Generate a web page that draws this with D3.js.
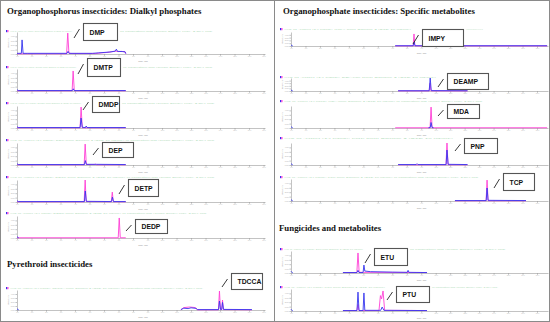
<!DOCTYPE html>
<html><head><meta charset="utf-8">
<script src="https://cdn.jsdelivr.net/npm/d3@7/dist/d3.min.js"></script>
<style>body{margin:0;background:#fff}svg{display:block}</style>
</head><body><svg id="c" width="550" height="322"></svg>
<script>
// ---------------- data ----------------
const sectionTitles = ["Organophosphorus insecticides: Dialkyl phosphates",
  "Organophosphate insecticides: Specific metabolites",
  "Pyrethroid insecticides", "Fungicides and metabolites"];
const compounds = ["DMP","DMTP","DMDP","DEP","DETP","DEDP","TDCCA","IMPY","DEAMP","MDA","PNP","TCP","ETU","PTU"];
const timeTicks = [0,1,2,3,4,5,6,7,8,9,10,11,12,13,14,15,16,17];
const intensityTicks = [0,20,40,60,80];
// traces: [time (min), relative intensity (%)]
const pinkDMP  = [[0,1],[3.42,1],[3.5,95],[3.58,3],[3.8,2],[5.4,2],[5.8,5],[6.2,7],[6.5,10],[6.8,13],[7.0,11],[7.2,12],[7.45,10],[7.5,1]];
const blueDMP  = [[0,3],[0.3,3],[0.35,64],[0.42,3],[0.7,3],[3.45,3],[3.52,12],[3.6,3],[5.2,3],[5.6,5],[6.0,7],[6.4,9],[6.78,13],[6.85,22],[6.93,12],[7.3,11],[7.45,10],[7.5,2]];
const pinkDMTP = [[0,1],[3.8,1],[3.87,91],[3.95,1],[7.5,1]];
const blueDMTP = [[0,6],[0.08,2],[3.82,2],[3.88,10],[3.94,2],[7.5,2]];
const pinkDMDP = [[0,1],[4.35,1],[4.42,95],[4.5,1],[7.5,1]];
const blueDMDP = [[0,6],[0.08,2],[4.35,2],[4.42,45],[4.5,3],[4.72,2],[4.77,9],[4.83,2],[7.5,2]];
const pinkDEP  = [[0,1],[4.63,1],[4.7,95],[4.78,2],[5.35,2],[5.4,5],[5.45,1],[7.5,1]];
const blueDEP  = [[0,6],[0.08,2],[4.65,2],[4.71,20],[4.78,3],[5.5,3],[7.5,2]];
const pinkDETP = [[0,1],[4.63,1],[4.7,100],[4.77,2],[6.5,1],[6.57,45],[6.64,1],[7.5,1]];
const blueDETP = [[0,6],[0.08,2],[4.65,2],[4.71,50],[4.78,3],[6.52,2],[6.58,22],[6.65,2],[7.5,2]];
const pinkDEDP = [[0,1],[6.98,1],[7.05,91],[7.12,1],[7.5,1]];
const blueDEDP = [[0,6],[0.08,2],[0.12,1]];
const pinkTDCCA = [[11.3,1],[11.5,12],[11.9,15],[12.3,12],[12.42,1],[13.89,1],[13.96,95],[14.03,2],[14.11,2],[14.17,50],[14.23,2],[16.2,1]];
const blueTDCCA = [[0,6],[0.08,2],[0.12,1]];
const blueTDCCA2 = [[11.3,2],[11.5,9],[11.8,7],[12.0,11],[12.35,8],[12.45,2],[13.9,2],[13.96,45],[14.03,3],[14.12,3],[14.17,38],[14.24,3],[16.2,2]];
const pinkIMPY  = [[7.2,1],[8.44,1],[8.5,86],[8.56,1],[17.7,1]];
const blueIMPY  = [[0,8],[0.08,2],[0.12,1]];
const blueIMPY2 = [[7.2,2],[8.45,2],[8.51,28],[8.57,2],[17.7,2]];
const pinkDEAMP = [[7.4,1],[9.55,1],[9.61,60],[9.67,1],[12.2,1]];
const blueDEAMP = [[0,8],[0.08,2],[0.12,1]];
const blueDEAMP2 = [[7.4,2],[9.55,2],[9.62,100],[9.69,3],[12.2,2]];
const pinkMDA  = [[7.2,1],[9.61,1],[9.68,95],[9.75,1],[17.7,1]];
const blueMDA  = [[0,6],[0.08,2],[0.12,1]];
const blueMDA2 = [[9.5,1],[9.62,2],[9.68,25],[9.75,2],[9.85,1]];
const pinkPNP  = [[7.4,1],[10.71,1],[10.78,100],[10.85,1],[12.2,1]];
const bluePNP  = [[0,6],[0.08,2],[0.12,1]];
const bluePNP2 = [[7.4,2],[8.65,2],[8.71,6],[8.77,2],[10.72,2],[10.78,68],[10.86,3],[12.2,2]];
const pinkTCP  = [[11.33,1],[13.48,1],[13.55,95],[13.62,1],[16.24,1]];
const blueTCP  = [[0,6],[0.08,2],[0.12,1]];
const blueTCP2 = [[11.33,2],[13.49,2],[13.55,59],[13.62,3],[16.24,2]];
const pinkETU  = [[3.59,2],[4.55,2],[4.63,91],[4.71,3],[5.0,3],[9.4,2]];
const blueETU  = [[0,8],[0.08,2],[0.12,1]];
const blueETU2 = [[3.59,2],[4.56,2],[4.63,12],[4.7,2],[4.98,2],[5.04,36],[5.1,9],[5.5,6],[7.0,4],[8.03,3],[8.09,12],[8.15,3],[9.4,2]];
const pinkPTU  = [[3.59,2],[4.55,2],[4.63,30],[4.7,2],[6.08,2],[6.18,70],[6.26,55],[6.36,91],[6.47,3],[9.4,2]];
const bluePTU  = [[0,8],[0.08,2],[0.12,1]];
const bluePTU2 = [[3.59,2],[4.56,2],[4.63,86],[4.7,2],[4.98,2],[5.04,82],[5.1,3],[6.2,3],[6.3,18],[6.42,3],[9.4,2]];

const pinkSeries = [pinkDMP,pinkDMTP,pinkDMDP,pinkDEP,pinkDETP,pinkDEDP,pinkTDCCA,pinkIMPY,pinkDEAMP,pinkMDA,pinkPNP,pinkTCP,pinkETU,pinkPTU];
const blueSeries = [[blueDMP],[blueDMTP],[blueDMDP],[blueDEP],[blueDETP],[blueDEDP],[blueTDCCA,blueTDCCA2],[blueIMPY,blueIMPY2],[blueDEAMP,blueDEAMP2],[blueMDA,blueMDA2],[bluePNP,bluePNP2],[blueTCP,blueTCP2],[blueETU,blueETU2],[bluePTU,bluePTU2]];

// ---------------- layout ----------------
const layout = [
  {side:0, base:54,  h:22, mark:31,  bx:83,  by:23,  bw:34, bh:17, txt:203},
  {side:0, base:91,  h:22, mark:67,  bx:87,  by:58,  bw:33, bh:18, txt:203},
  {side:0, base:128, h:22, mark:103, bx:92,  by:96,  bw:27, bh:16, txt:205},
  {side:0, base:165, h:22, mark:140, bx:102, by:142, bw:31, bh:15, txt:205},
  {side:0, base:202, h:22, mark:177, bx:128, by:179, bw:30, bh:17, txt:205},
  {side:0, base:238, h:22, mark:213, bx:135, by:219, bw:32, bh:14, txt:197},
  {side:0, base:310, h:20, mark:288, bx:231, by:273, bw:31, bh:16, txt:193},
  {side:1, base:46,  h:14, mark:29,  bx:422, by:29,  bw:41, bh:17, txt:199},
  {side:1, base:91,  h:13, mark:77,  bx:447, by:73,  bw:41, bh:16, txt:199},
  {side:1, base:128, h:22, mark:101, bx:447, by:104, bw:32, bh:14, txt:199},
  {side:1, base:165, h:22, mark:138, bx:464, by:138, bw:33, bh:15, txt:199},
  {side:1, base:201, h:22, mark:177, bx:503, by:173, bw:31, bh:17, txt:195},
  {side:1, base:273, h:22, mark:249, bx:374, by:248, bw:33, bh:17, txt:222},
  {side:1, base:311, h:22, mark:287, bx:396, by:286, bw:33, bh:16, txt:214}
];
const xLeft = d3.scaleLinear().domain([0,17.1]).range([17,265]);
const xRight = d3.scaleLinear().domain([0,17.76]).range([291,548]);
const PINK = "#ff3fd6", BLUE = "#3535ee";

const svg = d3.select("#c");
svg.append("rect").attr("x",0.5).attr("y",0.5).attr("width",549).attr("height",321)
  .attr("fill","#fff").attr("stroke","#8a8a8a").attr("stroke-width",1);
svg.append("line").attr("x1",274.5).attr("x2",274.5).attr("y1",0).attr("y2",322)
  .attr("stroke","#8a8a8a").attr("stroke-width",1);

const titlePos = [[7,14],[283,14],[7,267],[279,231]];
sectionTitles.forEach((t,i)=>{
  svg.append("text").attr("x",titlePos[i][0]).attr("y",titlePos[i][1]).text(t)
    .attr("font-family","'Liberation Serif', serif").attr("font-weight","bold")
    .attr("font-size",8.8).attr("fill","#111");
});

function sampleText(g, x, y, len, s){
  g.append("text").attr("x",x).attr("y",y)
    .attr("font-size",2.4).attr("fill","#b3dcbc").attr("font-family","'Liberation Sans', sans-serif")
    .attr("textLength",len).attr("lengthAdjust","spacingAndGlyphs").text(s);
}

compounds.forEach((name,i)=>{
  const L = layout[i];
  const x = L.side ? xRight : xLeft;
  const y = d3.scaleLinear().domain([0,100]).range([L.base, L.base - L.h]);
  const g = svg.append("g");
  const x0 = x.range()[0];
  const off = L.side ? 274 : 0;
  // header sample text
  g.append("rect").attr("x",off+6).attr("y",L.mark-1).attr("width",1.3).attr("height",2.2).attr("fill",BLUE);
  g.append("rect").attr("x",off+7.3).attr("y",L.mark-1).attr("width",1.2).attr("height",2.2).attr("fill",PINK);
  const full = "XIC of -MRM (14 pairs): " + name + " from Sample 2 (STD 10 ng/mL) of calibration.wiff (Turbo Spray)    Max. 2.5e4 cps.";
  const tx0 = off+10, tx1 = off+10+L.txt;
  if (L.by < L.mark+1 && L.by+L.bh > L.mark-2 && L.bx < tx1) {
    const a = L.bx - 11 - tx0, b = tx1 - (L.bx + L.bw + 3);
    sampleText(g, tx0, L.mark+1, a, "XIC of -MRM (14 pairs): " + name + " from Sample 2 (STD 10 ng/mL)");
    if (b > 10) sampleText(g, L.bx+L.bw+3, L.mark+1, b, "of calibration.wiff (Turbo Spray)  Max. 2.5e4 cps.");
  } else {
    sampleText(g, tx0, L.mark+1, L.txt, full);
  }
  // axes
  const ax = g.append("g").attr("transform",`translate(0,${L.base})`)
    .call(d3.axisBottom(x).tickValues(timeTicks).tickSize(1.8).tickSizeOuter(0).tickFormat(d3.format(".1f")));
  ax.selectAll("path,line").attr("stroke","#9a9a9a").attr("stroke-width",0.6);
  ax.selectAll("text").attr("font-size",1.8).attr("fill","#b0b0b0").attr("y",2.2).attr("dy","0.7em");
  ax.append("text").attr("x", (x.range()[0]+x.range()[1])/2 + 2).attr("y",7.6)
    .attr("font-size",2.2).attr("fill","#888").attr("text-anchor","middle").text("Time, min");
  const ay = g.append("g").attr("transform",`translate(${x0},0)`)
    .call(d3.axisLeft(y).tickValues(intensityTicks).tickSize(1.5).tickSizeOuter(0).tickFormat(d=>(d/20).toFixed(1)+"e4"));
  ay.selectAll("path,line").attr("stroke","#9a9a9a").attr("stroke-width",0.6);
  ay.selectAll("text").attr("font-size",1.8).attr("fill","#a0a0a0").attr("x",-1.8);
  g.append("text").attr("transform",`translate(${x0-8.5},${L.base - L.h/2}) rotate(-90)`)
    .attr("font-size",1.8).attr("fill","#999").attr("text-anchor","middle").text("Intensity, cps");
  // traces
  const line = d3.line().x(d=>x(d[0])).y(d=>y(d[1]));
  g.append("path").datum(pinkSeries[i]).attr("d",line).attr("fill","none")
    .attr("stroke",PINK).attr("stroke-width",0.9).attr("stroke-linejoin","round");
  blueSeries[i].forEach(s=>{
    g.append("path").datum(s).attr("d",line).attr("fill","none")
      .attr("stroke",BLUE).attr("stroke-width",0.9).attr("stroke-linejoin","round");
  });
  // label box
  g.append("line").attr("x1",L.bx-9).attr("y1",L.by+L.bh-2).attr("x2",L.bx-3.5).attr("y2",L.by+6)
    .attr("stroke","#222").attr("stroke-width",0.9);
  g.append("rect").attr("x",L.bx+0.5).attr("y",L.by+0.5).attr("width",L.bw).attr("height",L.bh)
    .attr("fill","#fff").attr("stroke","#555").attr("stroke-width",1.1);
  g.append("text").attr("x",L.bx+6.5).attr("y",L.by+L.bh/2+3)
    .attr("font-family","'Liberation Sans', Arial, sans-serif").attr("font-weight","bold")
    .attr("font-size",6.8).attr("fill","#111").text(name);
});
</script></body></html>
